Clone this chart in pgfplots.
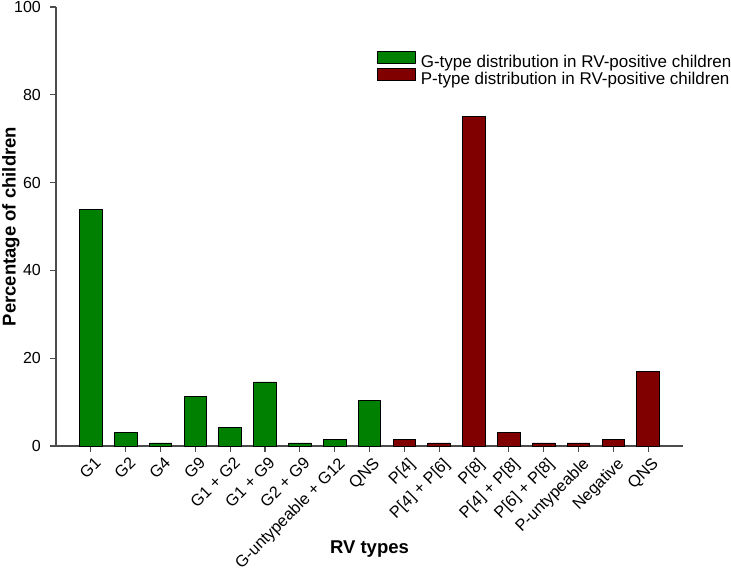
\documentclass[border=0pt]{standalone}
\usepackage{pgfplots}
\pgfplotsset{compat=1.18}
\usepackage{fontspec}
\setmainfont{Liberation Sans}
\definecolor{gbar}{RGB}{0,128,0}
\definecolor{rbar}{RGB}{128,0,0}
\begin{document}
\begin{tikzpicture}
\begin{axis}[
 scale only axis, width=627bp, height=439bp,
 xmin=-1, xmax=17, ymin=0, ymax=100,
 axis x line*=bottom, axis y line*=left,
 ytick={0,20,...,100}, xtick={0,...,16},
 tick align=outside, major tick length=6bp,
 tick style={color=black!70, line width=1.2bp},
 axis line style={black!70, line width=1.5bp},
 /pgf/number format/assume math mode=true,
 xticklabels={G1,G2,G4,G9,G1 + G2,G1 + G9,G2 + G9,G-untypeable + G12,QNS,P[4],P[4] + P[6],P[8],P[4] + P[8],P[6] + P[8],P-untypeable,Negative,QNS},
 x tick label style={rotate=45, anchor=north east, inner sep=0pt, yshift=-5bp, xshift=-1bp, font=\fontsize{16.3bp}{18bp}\selectfont},
 y tick label style={inner sep=0pt, xshift=-9bp, font=\fontsize{16bp}{18bp}\selectfont},
 ylabel={Percentage of children}, xlabel={RV types},
 label style={font=\fontsize{18.5bp}{20bp}\selectfont\bfseries},
 xlabel style={at={(axis description cs:0.5,0)}, anchor=base, yshift=-107bp, inner sep=0pt},
 ylabel style={at={(axis description cs:-0.0861,0.5)}, anchor=north, inner sep=0pt},
 ybar, bar width=0.65, bar shift=0pt,
 legend style={draw=none, fill=none, inner sep=0pt, outer sep=0pt, at={(0.512,0.9)}, anchor=north west,
   font=\fontsize{17bp}{17bp}\selectfont, row sep=-4.5bp,
   nodes={inner sep=0pt, text height=12.5bp, text depth=4.5bp}},
 legend cell align=left,
 legend image code/.code={\draw[#1, line width=0.8bp] (0bp,0bp) rectangle (38bp,12.5bp); \path (43bp,0bp);},
]
\coordinate (ll) at (rel axis cs:0,0);
\addplot[fill=gbar, draw=black, line width=0.8bp] coordinates {(0,53.8) (1,3.0) (2,0.7) (3,11.2) (4,4.3) (5,14.6) (6,0.7) (7,1.4) (8,10.3)};
\addlegendentry{G-type distribution in RV-positive children}
\addplot[fill=rbar, draw=black, line width=0.8bp] coordinates {(9,1.4) (10,0.7) (11,75.0) (12,3.0) (13,0.7) (14,0.7) (15,1.4) (16,16.9)};
\addlegendentry{P-type distribution in RV-positive children}
\end{axis}
\pgfresetboundingbox
\path ([shift={(-56bp,-125bp)}]ll) rectangle ([shift={(675bp,446bp)}]ll);
\end{tikzpicture}
\end{document}
